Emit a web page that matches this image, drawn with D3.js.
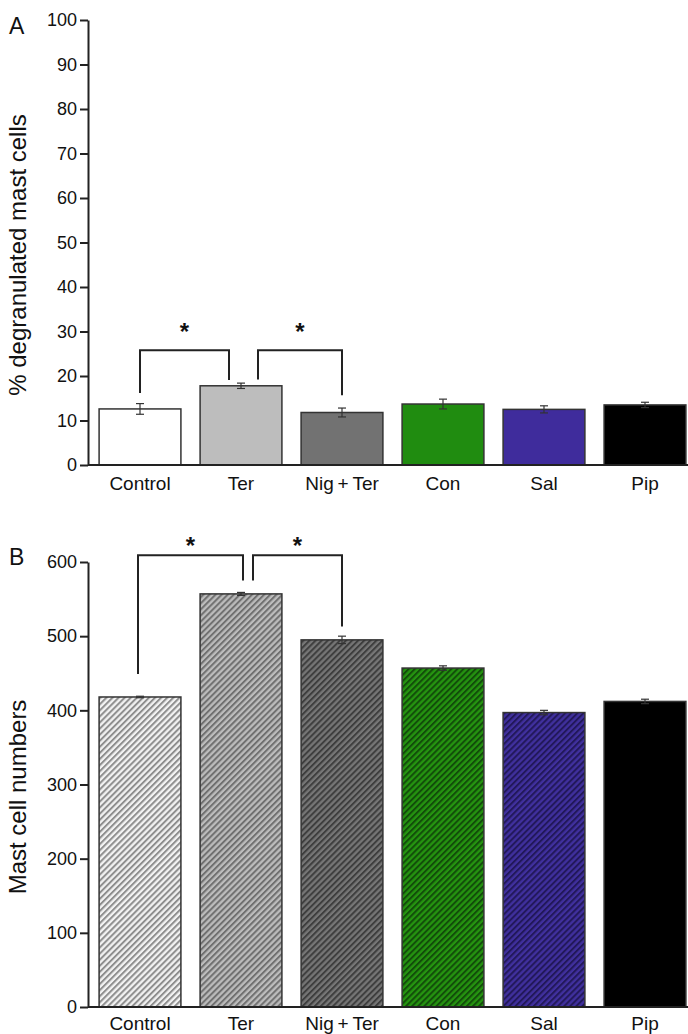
<!DOCTYPE html>
<html lang="en">
<head>
<meta charset="utf-8">
<title>mast cells</title>
<script src="https://d3js.org/d3.v7.min.js"></script>
<style>
  body{margin:0;background:#fff;font-family:"Liberation Sans",Arial,Helvetica,sans-serif;}
  .axis path,.axis line{stroke:#222;stroke-width:2px;}
  .axis text{font-size:18px;fill:#111;font-family:"Liberation Sans",Arial,sans-serif;}
</style>
</head>
<body>
<div id="chart"></div>
<script>
// groups on the x axis
var groups = ["Control","Ter","Nig\u2009+\u2009Ter","Con","Sal","Pip"]

// panel A: % degranulated mast cells (mean, error)
var degranMean = [12.6, 17.8, 11.8, 13.7, 12.5, 13.5]
var degranErr  = [1.2, 0.6, 1.0, 1.1, 0.8, 0.6]
var degranTicks = [0,10,20,30,40,50,60,70,80,90,100]

// panel B: mast cell numbers (mean, error)
var countMean = [418, 557, 495, 457, 397, 412]
var countErr  = [1, 2, 5, 3, 3, 3]
var countTicks = [0,100,200,300,400,500,600]

// fills
var solidFill  = ["#ffffff","#bdbdbd","#727272","#208c10","#3f2c9c","#000000"]
var hatchBg    = ["#f2f2f2","#bcbcbc","#767676","#259410","#40309e","#000000"]
var hatchLine  = ["#8e8e8e","#707070","#3e3e3e","#124d0a","#22185a","#000000"]

// significance brackets: bracket level, where each leg ends, small leg shifts
var bracketsA = [
  {from:0, to:1, level:25.8, endFrom:16.2, endTo:19.1, dxFrom:0, dxTo:-12},
  {from:1, to:2, level:25.8, endFrom:19.2, endTo:15.7, dxFrom:17, dxTo:0}
]
var bracketsB = [
  {from:0, to:1, level:609, endFrom:449, endTo:575, dxFrom:-2, dxTo:2},
  {from:1, to:2, level:609, endFrom:575, endTo:513, dxFrom:12, dxTo:0}
]

var W = 688, H = 1034
var svg = d3.select("#chart").append("svg").attr("width",W).attr("height",H)
var defs = svg.append("defs")

groups.forEach(function(g,i){
  var p = defs.append("pattern")
    .attr("id","hatch"+i)
    .attr("patternUnits","userSpaceOnUse")
    .attr("width",4.3).attr("height",10)
    .attr("patternTransform","rotate(45)")
  p.append("rect").attr("width",4.3).attr("height",10).attr("fill",hatchBg[i])
  p.append("line").attr("x1",1).attr("x2",1).attr("y1",0).attr("y2",10)
    .attr("stroke",hatchLine[i]).attr("stroke-width",2)
})

var xScale = d3.scaleBand().domain(d3.range(groups.length))
  .range([89,696]).paddingInner(0.19).paddingOuter(0.1)

function drawPanel(opt){
  var yScale = d3.scaleLinear().domain(opt.domain).range([opt.bottom, opt.bottom-445])
  var g = svg.append("g")

  // bars
  g.selectAll("rect.bar").data(opt.mean).enter().append("rect")
    .attr("class","bar")
    .attr("x",function(d,i){return xScale(i)})
    .attr("y",function(d){return yScale(d)})
    .attr("width",xScale.bandwidth())
    .attr("height",function(d){return yScale(0)-yScale(d)})
    .attr("fill",function(d,i){return opt.fill(i)})
    .attr("stroke","#333").attr("stroke-width",1.5)

  // error bars
  var eb = g.selectAll("g.err").data(opt.mean).enter().append("g")
  eb.append("line")
    .attr("x1",function(d,i){return xScale(i)+xScale.bandwidth()/2})
    .attr("x2",function(d,i){return xScale(i)+xScale.bandwidth()/2})
    .attr("y1",function(d,i){return yScale(d-opt.err[i])})
    .attr("y2",function(d,i){return yScale(d+opt.err[i])})
  ;[1,-1].forEach(function(s){
    eb.append("line")
      .attr("x1",function(d,i){return xScale(i)+xScale.bandwidth()/2-4})
      .attr("x2",function(d,i){return xScale(i)+xScale.bandwidth()/2+4})
      .attr("y1",function(d,i){return yScale(d+s*opt.err[i])})
      .attr("y2",function(d,i){return yScale(d+s*opt.err[i])})
  })
  eb.selectAll("line").attr("stroke","#333").attr("stroke-width",1.2)

  // y axis
  g.append("g").attr("class","axis")
    .attr("transform","translate(88,0)")
    .call(d3.axisLeft(yScale).tickValues(opt.ticks).tickSize(8).tickPadding(3).tickSizeOuter(0))

  // x axis baseline
  g.append("line").attr("x1",88).attr("x2",W).attr("y1",yScale(0)).attr("y2",yScale(0))
    .attr("stroke","#222").attr("stroke-width",2)

  // category labels
  g.selectAll("text.cat").data(groups).enter().append("text")
    .attr("x",function(d,i){return xScale(i)+xScale.bandwidth()/2})
    .attr("y",yScale(0)+opt.labelDy)
    .attr("text-anchor","middle").attr("font-size",19).attr("fill","#111")
    .text(function(d){return d})

  // y title
  g.append("text")
    .attr("transform","translate(26,"+opt.titleY+") rotate(-90)")
    .attr("text-anchor","middle").attr("font-size",24).attr("fill","#111")
    .text(opt.title)

  // panel letter
  g.append("text").attr("x",9).attr("y",opt.letterY)
    .attr("font-size",23).attr("fill","#111").text(opt.letter)

  // brackets
  opt.brackets.forEach(function(b){
    var x1 = xScale(b.from)+xScale.bandwidth()/2+b.dxFrom
    var x2 = xScale(b.to)+xScale.bandwidth()/2+b.dxTo
    g.append("path")
      .attr("d","M"+x1+","+yScale(b.endFrom)+"V"+yScale(b.level)+"H"+x2+"V"+yScale(b.endTo))
      .attr("fill","none").attr("stroke","#222").attr("stroke-width",2)
    g.append("text").attr("x",(x1+x2)/2).attr("y",yScale(b.level)-opt.starDy)
      .attr("text-anchor","middle").attr("font-size",24).attr("font-weight","bold")
      .attr("fill","#111").text("*")
  })
}

drawPanel({
  domain:[0,100], bottom:465, mean:degranMean, err:degranErr, ticks:degranTicks,
  fill:function(i){return solidFill[i]}, labelDy:25, title:"% degranulated mast cells",
  titleY:255, letter:"A", letterY:34, brackets:bracketsA, starDy:10
})

drawPanel({
  domain:[0,600], bottom:1007, mean:countMean, err:countErr, ticks:countTicks,
  fill:function(i){return "url(#hatch"+i+")"}, labelDy:23, title:"Mast cell numbers",
  titleY:797, letter:"B", letterY:565, brackets:bracketsB, starDy:1
})
</script>
</body>
</html>
